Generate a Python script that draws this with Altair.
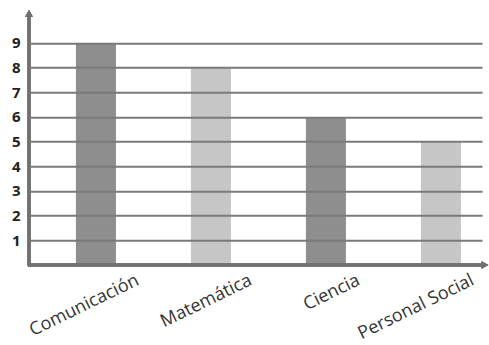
import altair as alt
import pandas as pd

categories = ["Comunicación", "Matemática", "Ciencia", "Personal Social"]
values = [9, 8, 6, 5]
tones = ["oscuro", "claro", "oscuro", "claro"]
y_ticks = [1, 2, 3, 4, 5, 6, 7, 8, 9]

df = pd.DataFrame({"curso": categories, "valor": values, "tono": tones})

W = 453
H = 246.7
AX = "#707070"

label_offset = {
    "condition": [
        {"test": "datum.value == 'Matemática'", "value": 36},
        {"test": "datum.value == 'Ciencia'", "value": 29},
        {"test": "datum.value == 'Personal Social'", "value": 28},
    ],
    "value": 38,
}

x_enc = alt.X(
    "curso:N",
    sort=categories,
    title=None,
    scale=alt.Scale(paddingInner=0.652, paddingOuter=0.2957, align=0.69),
    axis=alt.Axis(
        labelAngle=-26,
        labelAlign="right",
        labelBaseline="top",
        labelOffset=label_offset,
        labelPadding=6,
        labelFont="Open Sans",
        labelFontSize=18,
        labelColor="#333333",
        ticks=False,
        domain=False,
        grid=False,
    ),
)

bars = alt.Chart(df).mark_bar().encode(
    x=x_enc,
    y=alt.Y(
        "valor:Q",
        title=None,
        scale=alt.Scale(domain=[0, 10], nice=False),
        axis=alt.Axis(
            values=y_ticks,
            ticks=False,
            domain=False,
            grid=True,
            gridColor="#7a7a7a",
            gridWidth=2,
            labelFont="Open Sans",
            labelFontWeight="bold",
            labelFontSize=15,
            labelColor="#222222",
            labelPadding=9,
            zindex=1,
        ),
    ),
    color=alt.Color(
        "tono:N",
        scale=alt.Scale(domain=["oscuro", "claro"], range=["#8e8e8e", "#c6c6c6"]),
        legend=None,
    ),
)

yaxis_line = alt.Chart(df).mark_rule(color=AX, strokeWidth=3).encode(
    x=alt.value(0), y=alt.value(-5), y2=alt.value(H + 1)
)
xaxis_line = alt.Chart(df).mark_rule(color=AX, strokeWidth=3).encode(
    x=alt.value(-1), x2=alt.value(W + 3), y=alt.value(H)
)
up_arrow = alt.Chart(df).mark_point(
    shape="triangle-up", filled=True, color=AX, size=60, opacity=1
).encode(x=alt.value(0), y=alt.value(-5))
right_arrow = alt.Chart(df).mark_point(
    shape="triangle-right", filled=True, color=AX, size=60, opacity=1
).encode(x=alt.value(W + 3), y=alt.value(H))

chart = (
    alt.layer(bars, yaxis_line, xaxis_line, up_arrow, right_arrow)
    .properties(
        width=W,
        height=H,
        autosize=alt.AutoSizeParams(type="none"),
        padding={"left": 29, "top": 18.3, "right": 7, "bottom": 80},
        background="white",
    )
    .configure_view(stroke=None)
)

chart.save("out.html", embed_options={"renderer": "svg", "actions": False})
